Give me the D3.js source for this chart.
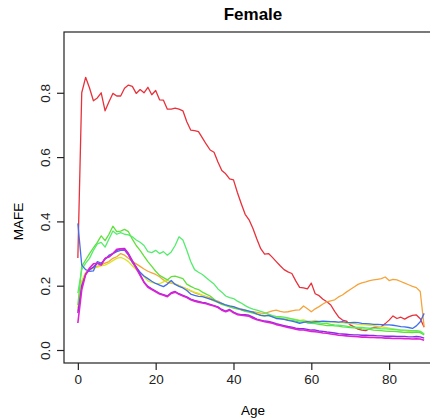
<!DOCTYPE html>
<html>
<head>
<meta charset="utf-8">
<script src="https://cdn.jsdelivr.net/npm/d3@7"></script>
<style>
  body { margin: 0; background: #fff; }
  svg text { font-family: "Liberation Sans", Arial, sans-serif; }
</style>
</head>
<body>
<svg id="chart" width="430" height="419"></svg>
<script>
// ages 0..89, one value per year for every model
const ages = d3.range(0, 90);

const red = [0.286,0.80,0.848,0.815,0.775,0.784,0.80,0.744,0.772,0.798,
  0.79,0.79,0.814,0.824,0.82,0.798,0.81,0.80,0.817,0.794,
  0.807,0.778,0.777,0.749,0.749,0.752,0.749,0.744,0.71,0.684,
  0.682,0.679,0.66,0.64,0.622,0.615,0.585,0.558,0.548,0.532,
  0.529,0.49,0.455,0.422,0.405,0.378,0.345,0.315,0.298,0.30,
  0.288,0.275,0.262,0.25,0.243,0.238,0.215,0.195,0.193,0.19,
  0.208,0.175,0.169,0.158,0.15,0.14,0.12,0.103,0.093,0.09,
  0.078,0.072,0.065,0.062,0.06,0.066,0.07,0.072,0.073,0.082,
  0.093,0.106,0.098,0.102,0.096,0.103,0.108,0.109,0.097,0.071];

const orange = [0.12,0.21,0.24,0.25,0.255,0.26,0.265,0.27,0.275,0.285,
  0.29,0.30,0.295,0.285,0.275,0.268,0.26,0.252,0.245,0.24,
  0.235,0.228,0.218,0.21,0.208,0.205,0.2,0.195,0.19,0.184,
  0.178,0.174,0.17,0.166,0.162,0.155,0.152,0.145,0.14,0.136,
  0.133,0.13,0.128,0.124,0.12,0.119,0.117,0.115,0.114,0.118,
  0.122,0.124,0.12,0.118,0.119,0.122,0.124,0.125,0.137,0.128,
  0.119,0.128,0.135,0.143,0.15,0.153,0.156,0.165,0.171,0.18,
  0.188,0.196,0.204,0.209,0.212,0.216,0.218,0.22,0.222,0.227,
  0.216,0.22,0.218,0.213,0.208,0.203,0.198,0.194,0.182,0.072];

const yellow = [0.13,0.215,0.24,0.25,0.254,0.258,0.262,0.264,0.27,0.278,
  0.285,0.288,0.283,0.275,0.262,0.25,0.24,0.228,0.215,0.21,
  0.207,0.206,0.212,0.218,0.21,0.206,0.2,0.195,0.19,0.185,
  0.18,0.176,0.17,0.165,0.158,0.152,0.148,0.143,0.14,0.136,
  0.132,0.128,0.126,0.122,0.12,0.117,0.114,0.11,0.108,0.11,
  0.106,0.104,0.101,0.1,0.098,0.097,0.095,0.092,0.094,0.09,
  0.09,0.092,0.09,0.088,0.087,0.088,0.086,0.085,0.085,0.083,
  0.082,0.082,0.08,0.079,0.078,0.077,0.076,0.074,0.072,0.07,
  0.068,0.066,0.064,0.062,0.06,0.058,0.058,0.06,0.058,0.05];

const green = [0.14,0.26,0.28,0.30,0.318,0.335,0.355,0.34,0.36,0.385,
  0.368,0.37,0.375,0.368,0.345,0.325,0.31,0.292,0.275,0.26,
  0.245,0.232,0.225,0.218,0.228,0.23,0.226,0.222,0.205,0.198,
  0.192,0.188,0.18,0.174,0.168,0.158,0.148,0.142,0.138,0.134,
  0.13,0.128,0.125,0.12,0.118,0.115,0.112,0.108,0.106,0.108,
  0.104,0.1,0.098,0.096,0.094,0.092,0.09,0.086,0.088,0.084,
  0.083,0.082,0.08,0.078,0.076,0.077,0.075,0.074,0.072,0.071,
  0.07,0.069,0.068,0.066,0.065,0.064,0.062,0.061,0.06,0.059,
  0.058,0.058,0.057,0.056,0.055,0.055,0.054,0.056,0.054,0.047];

const mint = [0.177,0.25,0.27,0.285,0.31,0.33,0.335,0.32,0.345,0.37,
  0.36,0.365,0.36,0.358,0.352,0.342,0.335,0.325,0.306,0.303,
  0.31,0.3,0.306,0.295,0.305,0.325,0.352,0.342,0.31,0.275,
  0.25,0.242,0.235,0.225,0.215,0.205,0.19,0.18,0.168,0.163,
  0.16,0.152,0.146,0.138,0.132,0.127,0.124,0.12,0.116,0.112,
  0.107,0.104,0.104,0.102,0.1,0.097,0.094,0.091,0.09,0.088,
  0.085,0.085,0.084,0.083,0.083,0.08,0.078,0.077,0.076,0.074,
  0.072,0.071,0.07,0.07,0.069,0.068,0.068,0.067,0.066,0.066,
  0.065,0.064,0.063,0.062,0.062,0.061,0.06,0.06,0.058,0.05];

const blue = [0.394,0.264,0.25,0.245,0.246,0.275,0.27,0.282,0.295,0.3,
  0.306,0.31,0.311,0.295,0.272,0.258,0.242,0.23,0.222,0.214,
  0.207,0.202,0.197,0.205,0.216,0.204,0.198,0.193,0.185,0.174,
  0.17,0.167,0.166,0.162,0.158,0.154,0.149,0.145,0.14,0.137,
  0.135,0.13,0.126,0.124,0.121,0.118,0.112,0.108,0.106,0.108,
  0.103,0.098,0.097,0.095,0.092,0.09,0.087,0.083,0.086,0.088,
  0.087,0.088,0.088,0.09,0.089,0.088,0.088,0.087,0.088,0.086,
  0.085,0.086,0.085,0.083,0.082,0.081,0.08,0.08,0.079,0.078,
  0.078,0.077,0.075,0.073,0.072,0.07,0.067,0.075,0.088,0.114];

const purple = [0.115,0.2,0.235,0.25,0.258,0.27,0.266,0.285,0.29,0.3,
  0.31,0.315,0.316,0.3,0.278,0.258,0.235,0.212,0.198,0.19,
  0.183,0.176,0.172,0.168,0.178,0.182,0.175,0.17,0.165,0.158,
  0.154,0.151,0.148,0.146,0.142,0.138,0.134,0.126,0.121,0.126,
  0.118,0.112,0.11,0.11,0.108,0.102,0.096,0.093,0.09,0.089,
  0.086,0.082,0.079,0.076,0.073,0.071,0.068,0.066,0.066,0.064,
  0.062,0.062,0.059,0.058,0.056,0.055,0.053,0.051,0.05,0.049,
  0.048,0.047,0.047,0.046,0.046,0.045,0.045,0.044,0.044,0.043,
  0.043,0.043,0.042,0.042,0.042,0.041,0.041,0.042,0.041,0.037];

const magenta = [0.084,0.187,0.235,0.255,0.268,0.27,0.264,0.285,0.29,0.3,
  0.313,0.315,0.313,0.298,0.275,0.254,0.232,0.21,0.195,0.188,
  0.181,0.174,0.17,0.166,0.176,0.18,0.173,0.168,0.163,0.156,
  0.152,0.149,0.146,0.144,0.14,0.137,0.132,0.124,0.119,0.124,
  0.116,0.11,0.108,0.107,0.105,0.099,0.094,0.091,0.088,0.086,
  0.083,0.079,0.076,0.073,0.07,0.068,0.065,0.062,0.062,0.06,
  0.058,0.057,0.055,0.053,0.052,0.05,0.048,0.046,0.045,0.044,
  0.043,0.042,0.041,0.04,0.04,0.039,0.039,0.038,0.038,0.037,
  0.037,0.036,0.036,0.036,0.035,0.035,0.034,0.035,0.034,0.03];

const series = [
  { values: red, color: '#e8313a', width: 1.3 },
  { values: orange, color: '#f4a43c', width: 1.3 },
  { values: yellow, color: '#d8e62a', width: 1.3 },
  { values: green, color: '#5fe03a', width: 1.3 },
  { values: mint, color: '#55ec6e', width: 1.3 },
  { values: blue, color: '#3f6fee', width: 1.3 },
  { values: purple, color: '#8a2ae8', width: 1.4 },
  { values: magenta, color: '#de22d2', width: 1.6 }
];

const xTicks = [0, 20, 40, 60, 80];
const yTicks = [0, 0.2, 0.4, 0.6, 0.8];

const svg = d3.select('#chart');
const plotLeft = 64, plotRight = 438, plotTop = 32, plotBottom = 363;

// R-style 4% padding around the data range
const x = d3.scaleLinear().domain([-3.56, 92.56]).range([plotLeft, plotRight]);
const y = d3.scaleLinear().domain([-0.0404, 0.989]).range([plotBottom, plotTop]);

svg.append('clipPath').attr('id', 'clip')
  .append('rect').attr('x', plotLeft).attr('y', plotTop)
  .attr('width', plotRight - plotLeft).attr('height', plotBottom - plotTop);

const line = d3.line()
  .x((d, i) => x(ages[i]))
  .y(d => y(d));

svg.append('g').attr('clip-path', 'url(#clip)')
  .selectAll('path')
  .data(series)
  .enter().append('path')
  .attr('d', d => line(d.values))
  .attr('fill', 'none')
  .attr('stroke', d => d.color)
  .attr('stroke-width', d => d.width)
  .attr('stroke-linejoin', 'round');

// box
svg.append('rect')
  .attr('x', plotLeft).attr('y', plotTop)
  .attr('width', plotRight - plotLeft).attr('height', plotBottom - plotTop)
  .attr('fill', 'none').attr('stroke', '#222').attr('stroke-width', 1.2);

// x axis
const xAxis = svg.append('g')
  .attr('transform', `translate(0,${plotBottom})`)
  .call(d3.axisBottom(x).tickValues(xTicks).tickSize(7).tickPadding(4).tickFormat(d3.format('d')));
xAxis.select('.domain').remove();
xAxis.selectAll('line').attr('stroke', '#222').attr('stroke-width', 1.2);
xAxis.selectAll('text').attr('font-size', 13.5).attr('fill', '#222');

// y axis, labels turned like R's default
const yAxis = svg.append('g')
  .attr('transform', `translate(${plotLeft},0)`)
  .call(d3.axisLeft(y).tickValues(yTicks).tickSize(7).tickFormat(d3.format('.1f')));
yAxis.select('.domain').remove();
yAxis.selectAll('line').attr('stroke', '#222').attr('stroke-width', 1.2);
yAxis.selectAll('text')
  .attr('font-size', 13.5).attr('fill', '#222')
  .attr('x', 0).attr('dy', null)
  .attr('text-anchor', 'middle')
  .attr('transform', 'translate(-14,0) rotate(-90)');

svg.append('text')
  .attr('x', (plotLeft + 442) / 2).attr('y', 20)
  .attr('text-anchor', 'middle')
  .attr('font-size', 17).attr('font-weight', 'bold')
  .text('Female');

svg.append('text')
  .attr('x', x(45)).attr('y', 415)
  .attr('text-anchor', 'middle')
  .attr('font-size', 13.5)
  .text('Age');

svg.append('text')
  .attr('transform', `translate(23,${y(0.4)}) rotate(-90)`)
  .attr('text-anchor', 'middle')
  .attr('font-size', 13.5)
  .text('MAFE');
</script>
</body>
</html>
